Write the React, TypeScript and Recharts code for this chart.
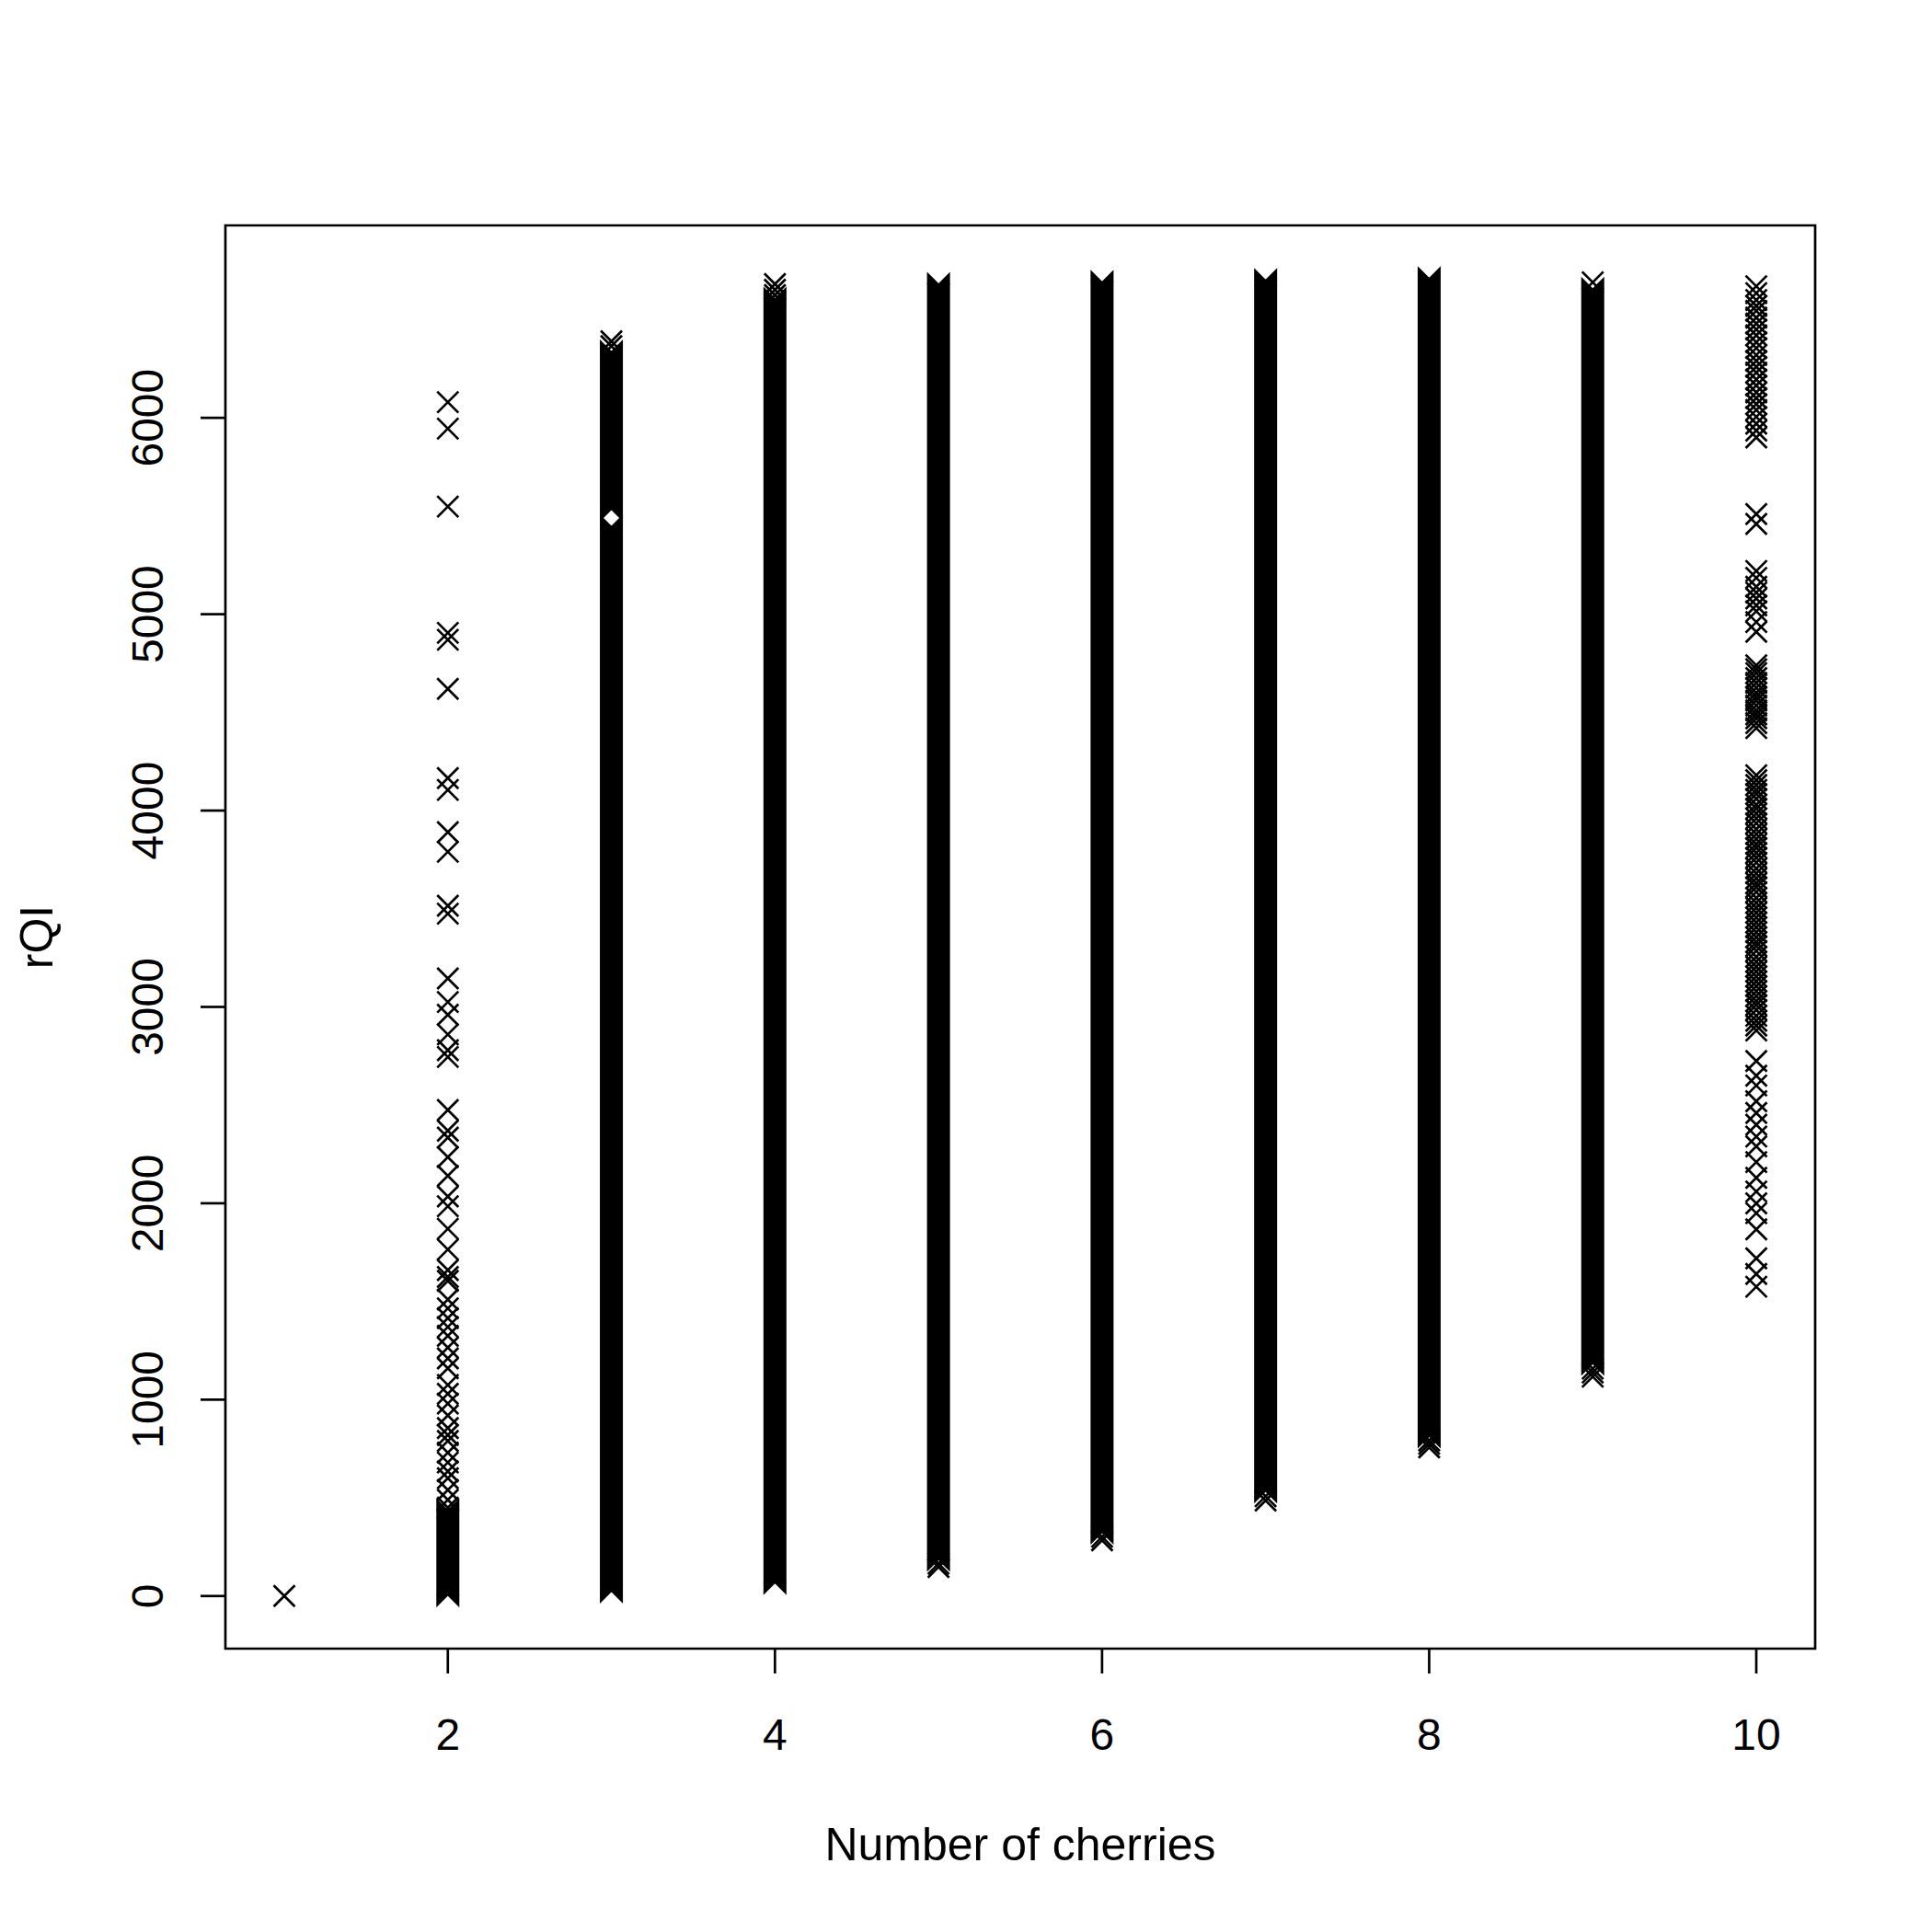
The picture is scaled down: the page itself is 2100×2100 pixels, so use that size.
import { ComposedChart, Scatter, XAxis, YAxis, Label, ReferenceArea } from 'recharts'

const FONT = '"Liberation Sans", Arial, Helvetica, sans-serif'

// number of cherries on the x axis, rQI values
const xTicks = [2, 4, 6, 8, 10]
const yTicks = [0, 1000, 2000, 3000, 4000, 5000, 6000]
const xDomain = [0.64, 10.36]
const yDomain = [-268, 6980]

const oneCherry = [0]

const twoCherries = [
  6080, 5945, 5548, 4905, 4870, 4620, 4165, 4105, 3890, 3790, 3515, 3475,
  3145, 3025, 2960, 2860, 2780, 2745, 2475, 2370, 2335, 2235, 2140, 2035,
  1985, 1870, 1765, 1660, 1625, 1605, 1510, 1465, 1415, 1370, 1325, 1265,
  1210, 1160, 1075, 1030, 980, 920, 855, 820, 790, 730, 680, 635, 600, 540,
  490, 450,
]

const tenCherries = [
  6670, 6635, 6600, 6570, 6545, 6510, 6480, 6450, 6420, 6385, 6355, 6320,
  6290, 6260, 6230, 6195, 6165, 6130, 6100, 6070, 6040, 6005, 5970, 5935,
  5900, 5510, 5460, 5220, 5185, 5140, 5110, 5080, 5045, 5015, 4960, 4910,
  4740, 4720, 4700, 4675, 4650, 4625, 4600, 4580, 4560, 4535, 4510, 4490,
  4470, 4445, 4420, 4180, 4155, 4130, 4105, 4085, 4060, 4030, 4010, 3985,
  3960, 3935, 3905, 3880, 3855, 3830, 3810, 3785, 3760, 3735, 3705, 3680,
  3655, 3630, 3610, 3585, 3555, 3530, 3505, 3480, 3455, 3430, 3405, 3380,
  3355, 3330, 3310, 3285, 3255, 3230, 3205, 3180, 3155, 3130, 3105, 3080,
  3055, 3030, 3010, 2985, 2955, 2930, 2905, 2880, 2725, 2650, 2600, 2520,
  2460, 2400, 2340, 2290, 2210, 2130, 2060, 2000, 1950, 1867, 1720, 1640,
  1575,
]

// columns so dense they print as one solid band: low and high end of each band
const bandX = [2, 3, 3, 4, 5, 6, 7, 8, 9]
const bandLow = [0, 20, 5530, 64, 182, 320, 530, 810, 1180]
const bandHigh = [440, 5450, 6340, 6610, 6685, 6695, 6705, 6714, 6660]

// separate crosses at the ends of the bands
const edgeX = [3, 3, 4, 4, 4, 5, 5, 6, 6, 7, 7, 8, 8, 8, 9, 9, 9, 9]
const edgeY = [
  6390, 6365, 6681, 6652, 6625, 148, 165, 284, 302, 486, 508, 757, 775, 792,
  1117, 1138, 1158, 6690,
]

const sparse = [
  ...oneCherry.map((y) => ({ x: 1, y })),
  ...twoCherries.map((y) => ({ x: 2, y })),
  ...tenCherries.map((y) => ({ x: 10, y })),
  ...edgeX.map((x, i) => ({ x, y: edgeY[i] })),
]

const bands = bandX.map((x, i) => [
  { x, y: bandLow[i], end: 'low' },
  { x, y: bandHigh[i], end: 'high' },
])

const R = 11.5
const HALF_BAND = 12.5

function XMark(props: any) {
  const { cx, cy } = props
  return (
    <path
      d={`M${cx - R},${cy - R}L${cx + R},${cy + R}M${cx - R},${cy + R}L${cx + R},${cy - R}`}
      stroke="#000"
      strokeWidth={2.7}
      fill="none"
    />
  )
}

// end of a solid band: the stacked crosses leave a notch at the outer end
function BandEnd(props: any) {
  const { cx, cy, payload } = props
  const h = HALF_BAND
  const s = payload && payload.end === 'low' ? 1 : -1
  return (
    <path
      d={`M${cx - h},${cy + s * h}L${cx},${cy}L${cx + h},${cy + s * h}L${cx + h},${cy - s}L${cx - h},${cy - s}Z`}
      fill="#000"
      stroke="none"
    />
  )
}

function XTick(props: any) {
  const { x, y, payload } = props
  return (
    <text x={x} y={y + 64} textAnchor="middle" dominantBaseline="central" fontSize={48} fontFamily={FONT} fill="#000">
      {payload.value}
    </text>
  )
}

function YTick(props: any) {
  const { x, y, payload } = props
  const tx = x - 55
  return (
    <text
      x={tx}
      y={y}
      transform={`rotate(-90 ${tx} ${y})`}
      textAnchor="middle"
      dominantBaseline="central"
      fontSize={48}
      fontFamily={FONT}
      fill="#000"
    >
      {payload.value}
    </text>
  )
}

export default function App() {
  const axisStyle = { stroke: '#000', strokeWidth: 2.7 }
  return (
    <div style={{ position: 'absolute', left: 0, top: 0, background: '#fff' }}>
      <ComposedChart width={2100} height={2100} margin={{ top: 245, right: 127, left: 0, bottom: 0 }}>
        <XAxis
          dataKey="x"
          type="number"
          domain={xDomain}
          ticks={xTicks}
          allowDataOverflow
          height={308}
          tickSize={27}
          tickLine={axisStyle}
          axisLine={false}
          tick={<XTick />}
        >
          <Label
            content={(p: any) => {
              const vb = p.viewBox
              return (
                <text
                  x={vb.x + vb.width / 2}
                  y={vb.y + 213}
                  textAnchor="middle"
                  dominantBaseline="central"
                  fontSize={50}
                  fontFamily={FONT}
                  fill="#000"
                >
                  Number of cherries
                </text>
              )
            }}
          />
        </XAxis>
        <YAxis
          dataKey="y"
          type="number"
          domain={yDomain}
          ticks={yTicks}
          allowDataOverflow
          width={245}
          tickSize={27}
          tickLine={axisStyle}
          axisLine={false}
          tick={<YTick />}
        >
          <Label
            content={(p: any) => {
              const vb = p.viewBox
              const lx = vb.x + 40
              const ly = vb.y + vb.height / 2
              return (
                <text
                  x={lx}
                  y={ly}
                  transform={`rotate(-90 ${lx} ${ly})`}
                  textAnchor="middle"
                  dominantBaseline="central"
                  fontSize={50}
                  fontFamily={FONT}
                  fill="#000"
                >
                  rQI
                </text>
              )
            }}
          />
        </YAxis>
        <ReferenceArea
          x1={xDomain[0]}
          x2={xDomain[1]}
          y1={yDomain[0]}
          y2={yDomain[1]}
          fill="none"
          stroke="#000"
          strokeWidth={2.7}
          ifOverflow="visible"
        />
        {bands.map((d, i) => (
          <Scatter
            key={`band-${i}`}
            data={d}
            line={{ stroke: '#000', strokeWidth: HALF_BAND * 2 }}
            shape={<BandEnd />}
            isAnimationActive={false}
          />
        ))}
        <Scatter data={sparse} shape={<XMark />} isAnimationActive={false} />
      </ComposedChart>
    </div>
  )
}
